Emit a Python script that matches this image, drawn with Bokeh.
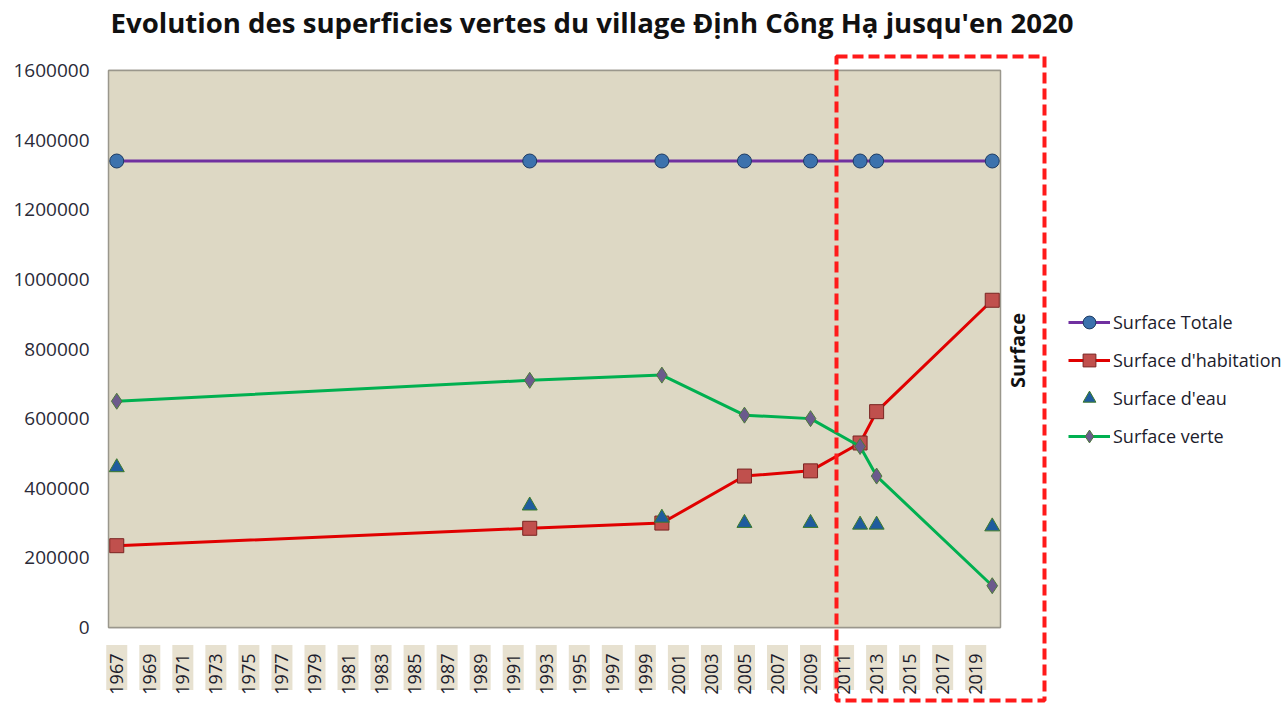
import math
from bokeh.plotting import figure
from bokeh.models import (FixedTicker, Legend, LegendItem, BoxAnnotation, Label,
                          NumeralTickFormatter, Range1d)
from bokeh.embed import file_html
from bokeh.resources import INLINE

# Survey years and surfaces (m²) for each land category
years = [1967, 1992, 2000, 2005, 2009, 2012, 2013, 2020]
surface_totale = [1340000, 1340000, 1340000, 1340000, 1340000, 1340000, 1340000, 1340000]
surface_habitation = [235000, 285000, 300000, 435000, 450000, 530000, 620000, 940000]
surface_eau = [460000, 350000, 315000, 300000, 300000, 295000, 295000, 290000]
surface_verte = [650000, 710000, 725000, 610000, 600000, 520000, 435000, 120000]

year_ticks = list(range(1967, 2020, 2))
y_ticks = [0, 200000, 400000, 600000, 800000, 1000000, 1200000, 1400000, 1600000]

X_MIN, X_MAX = 1966.5, 2020.5
Y_MIN, Y_MAX = 0, 1600000

# Canvas layout (pixels): the plotting area sits inside a full-canvas frame
W, H = 1281, 704
AREA_L, AREA_R, AREA_T, AREA_B = 108, 1000, 70, 627
kx = (X_MAX - X_MIN) / (AREA_R - AREA_L)
ky = (Y_MAX - Y_MIN) / (AREA_B - AREA_T)
x_start, x_end = X_MIN - AREA_L * kx, X_MAX + (W - AREA_R) * kx
y_start, y_end = Y_MIN - (H - AREA_B) * ky, Y_MAX + AREA_T * ky


def px_x(px):
    return x_start + px * kx


def px_y(py):
    return y_end - py * ky


FONT = "Open Sans"
BEIGE = "#ddd8c4"
GRID = "#8e8c82"

p = figure(width=W, height=H, x_range=Range1d(x_start, x_end), y_range=Range1d(y_start, y_end),
           output_backend="svg", toolbar_location=None, min_border=0)
p.outline_line_color = None
p.background_fill_color = "white"
p.border_fill_color = "white"
p.grid.visible = False

# Plotting area
p.add_layout(BoxAnnotation(left=X_MIN, right=X_MAX, bottom=Y_MIN, top=Y_MAX,
                           fill_color=BEIGE, fill_alpha=1, line_color="#9a978c",
                           line_alpha=1, line_width=1.5, level="underlay"))
p.segment(x0=[X_MIN] * len(y_ticks), x1=[X_MAX] * len(y_ticks), y0=y_ticks, y1=y_ticks,
          line_color=GRID, line_width=1.5, level="underlay")

# Axes pinned to the plotting area
p.xaxis.fixed_location = Y_MIN
p.xaxis.ticker = FixedTicker(ticks=year_ticks)
p.xaxis.major_label_orientation = math.pi / 2
p.xaxis.major_label_text_font = FONT
p.xaxis.major_label_text_font_size = "18px"
p.xaxis.major_label_text_color = "#1c1c2c"
p.xaxis.major_label_standoff = 20
p.xaxis.axis_line_color = None
p.xaxis.major_tick_line_color = None
p.xaxis.minor_tick_line_color = None

# pale tabs behind the year labels
p.rect(x=year_ticks, y=[px_y(667)] * len(year_ticks), width=21, height=45,
       width_units="screen", height_units="screen", fill_color="#e7e1d0",
       line_color=None, level="underlay")

p.yaxis.fixed_location = X_MIN
p.yaxis.ticker = FixedTicker(ticks=y_ticks)
p.yaxis.formatter = NumeralTickFormatter(format="0")
p.yaxis.major_label_text_font = FONT
p.yaxis.major_label_text_font_size = "19px"
p.yaxis.major_label_text_color = "#2a2a38"
p.yaxis.major_label_standoff = 13
p.yaxis.axis_line_color = None
p.yaxis.major_tick_line_color = None
p.yaxis.minor_tick_line_color = None

# Series
r_tot_l = p.line(years, surface_totale, line_color="#7030a0", line_width=3)
r_tot_m = p.scatter(years, surface_totale, marker="circle", size=14,
                    fill_color="#3c72ad", line_color="#1d3b63", line_width=1)

r_hab_l = p.line(years, surface_habitation, line_color="#e00000", line_width=3)
r_hab_m = p.scatter(years, surface_habitation, marker="square", size=14,
                    fill_color="#c0504d", line_color="#7a2422", line_width=1)

r_eau_m = p.scatter(years, surface_eau, marker="triangle", size=15,
                    fill_color="#1f5c9e", line_color="#3d7a2a", line_width=1)

r_ver_l = p.line(years, surface_verte, line_color="#00b050", line_width=3)
r_ver_m = p.scatter(years, surface_verte, marker="diamond", size=16,
                    fill_color="#6b5a8c", line_color="#4c7a3a", line_width=1)

legend = Legend(items=[
    LegendItem(label="Surface Totale", renderers=[r_tot_l, r_tot_m]),
    LegendItem(label="Surface d'habitation", renderers=[r_hab_l, r_hab_m]),
    LegendItem(label="Surface d'eau", renderers=[r_eau_m]),
    LegendItem(label="Surface verte", renderers=[r_ver_l, r_ver_m]),
])
legend.label_text_font = FONT
legend.label_text_font_size = "18px"
legend.label_text_color = "#1c1c2c"
legend.glyph_width = 42
legend.glyph_height = 32
legend.label_height = 32
legend.spacing = 6
legend.label_standoff = 3
legend.padding = 5
legend.margin = 0
legend.border_line_color = None
legend.background_fill_alpha = 0
legend.location = (1068, 252)
p.add_layout(legend)

# Title
p.add_layout(Label(x=px_x(110), y=px_y(21),
                   text="Evolution des superficies vertes du village Định Công Hạ jusqu'en 2020",
                   text_font=FONT, text_font_style="bold", text_font_size="27.6px",
                   text_color="#111111", text_align="left", text_baseline="alphabetic"))

# Dashed frame around the recent period
p.add_layout(BoxAnnotation(left=px_x(836), right=px_x(1044), top=px_y(56), bottom=px_y(700),
                           fill_alpha=0, line_color="#ff1a1a", line_alpha=1, line_width=4,
                           line_dash="11 5", level="overlay"))
p.add_layout(Label(x=px_x(1017), y=px_y(350), text="Surface", angle=math.pi / 2,
                   text_font=FONT, text_font_style="bold", text_font_size="20px",
                   text_color="#111111", text_align="center", text_baseline="middle"))

open("out.html", "w").write(file_html(p, INLINE))
